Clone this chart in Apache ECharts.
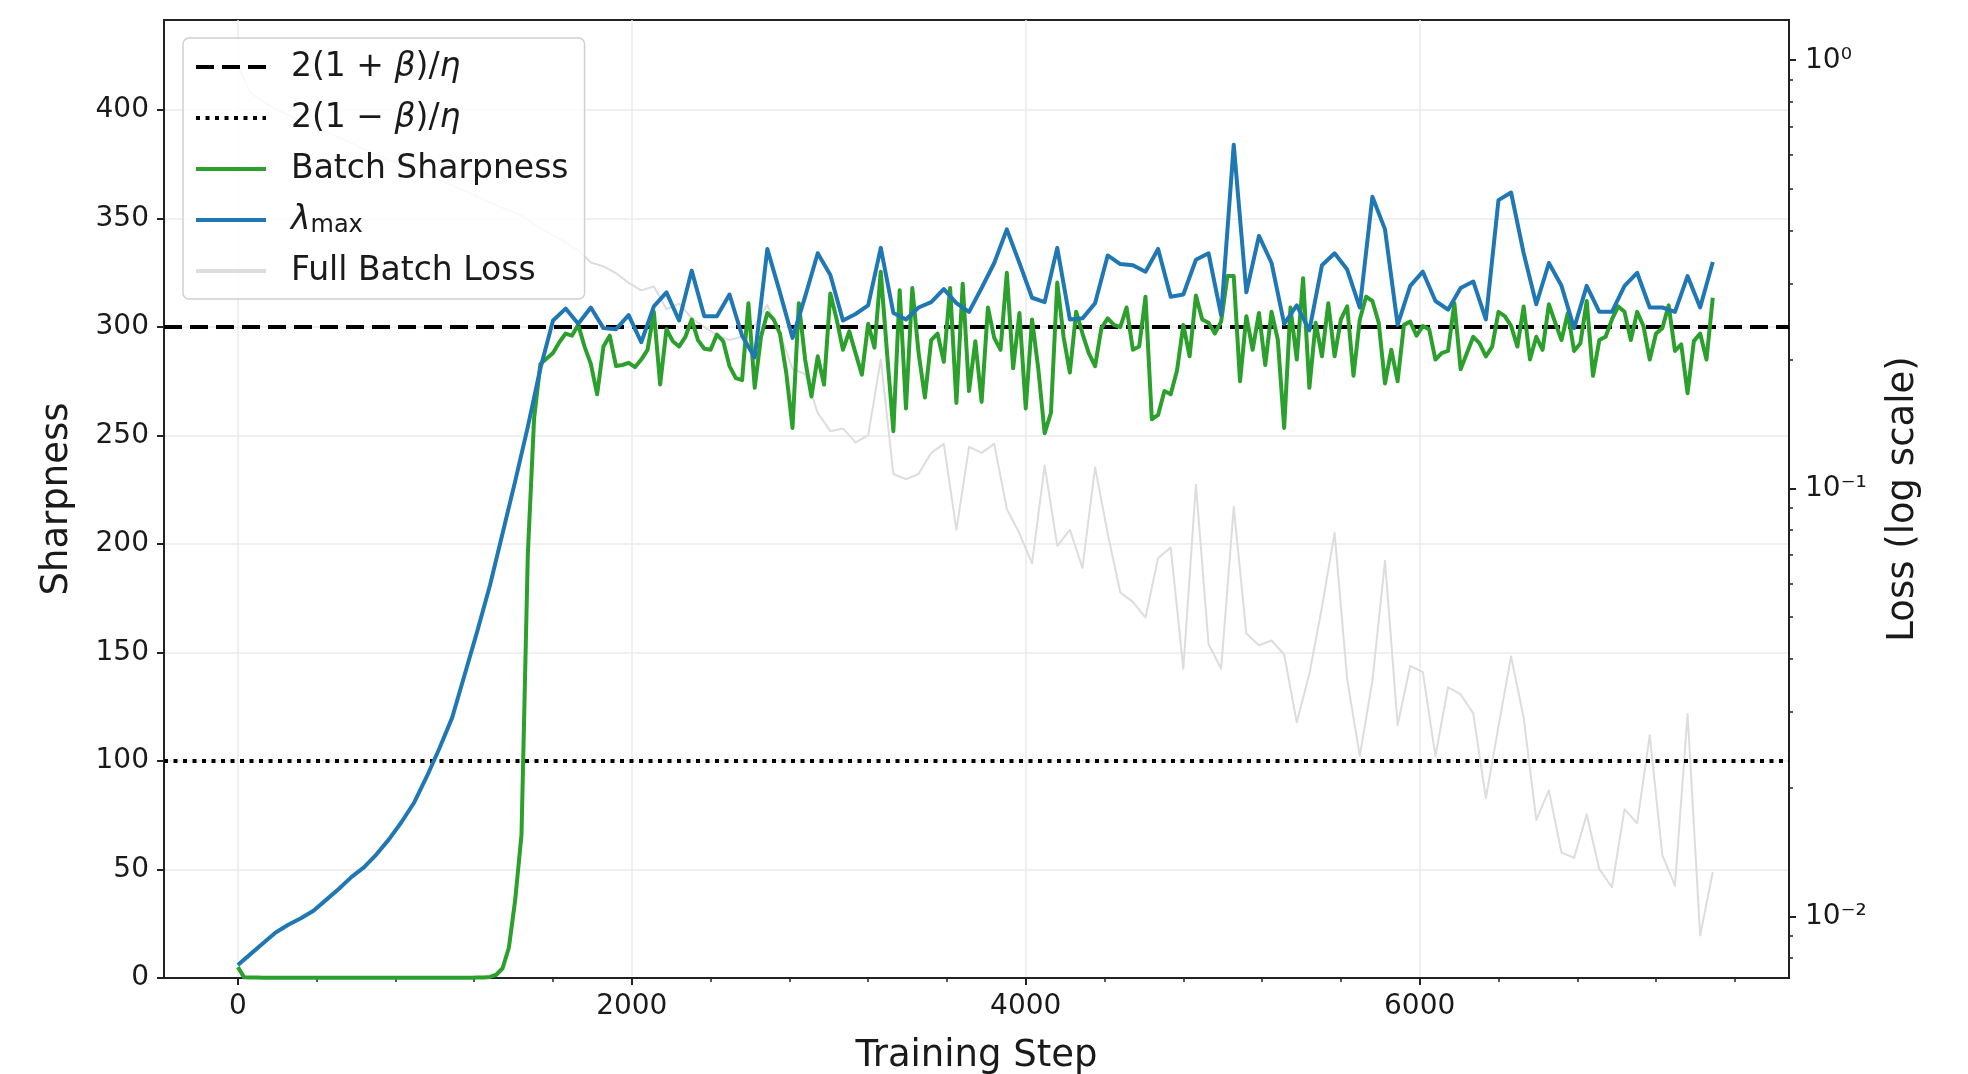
<!DOCTYPE html>
<html><head><meta charset="utf-8">
<script src="https://cdn.jsdelivr.net/npm/echarts@6/dist/echarts.min.js"></script>
<style>html,body{margin:0;padding:0;background:#ffffff}#chart{width:1968px;height:1074px}</style>
</head><body><div id="chart"></div>
<script>
// ---------------- data ----------------
const EVAL_INTERVAL = 64;   // training steps between λmax / full-batch-loss evaluations
const BATCH_INTERVAL = 32;  // training steps between batch-sharpness evaluations

const lambdaMax = [6, 11, 16, 21, 24.5, 27.5, 31, 36, 41, 46.5,
 51, 57, 64, 72, 81, 93, 106, 120, 140, 160,
 181, 205, 229, 254, 281, 303, 308.5, 301.5, 309, 299.5,
 299, 305.5, 293, 309.5, 316, 303, 326, 305, 305, 315,
 296, 286, 336, 316, 295, 314, 334, 324, 303, 306,
 310, 336.5, 306.5, 303.5, 309, 311.5, 317.5, 311, 307, 318,
 329.5, 345, 329.5, 313.5, 311.5, 336.5, 303.5, 304, 311, 333,
 329, 328.5, 325.5, 336, 314, 315, 331, 334, 305.5, 384,
 316, 342, 329.5, 301.5, 310, 298.5, 328.5, 334, 326.5, 309,
 360, 345, 301, 319, 325.5, 312, 308, 318, 321, 303.5,
 358.5, 362, 334, 310.5, 329.5, 319, 299.5, 319, 307, 307,
 319, 325, 309, 309, 307, 323.5, 309, 330];

const batchSharpness = [5,
 0.3, 0.2, 0.2, 0.1, 0.1, 0.1, 0.1, 0.1, 0.1, 0.1,
 0.1, 0.1, 0.1, 0.1, 0.1, 0.1, 0.1, 0.1, 0.1, 0.1,
 0.1, 0.1, 0.1, 0.1, 0.1, 0.1, 0.1, 0.1, 0.1, 0.1,
 0.1, 0.1, 0.1, 0.1, 0.1, 0.1, 0.1, 0.2, 0.2,
 0.5, 1.5, 4.5, 14, 36, 66, 195, 258,
 283, 285.5, 288, 293, 297, 296, 301, 291, 283, 269,
 291, 296, 282, 282.5, 283.5, 281.5, 285, 289.5, 307, 273.5,
 299, 293.5, 291, 295.5, 303.5, 294, 290, 289.5, 296.5, 293.5,
 282, 276.5, 275.5, 311, 272, 295.5, 306.5, 303.5, 297, 279,
 253.5, 311, 285, 268, 286.5, 273.5, 315.5, 303.5, 289.5, 298,
 288, 278, 301.5, 290.5, 325.5, 288, 252, 317, 262.5, 318,
 288, 267.5, 294, 297, 284, 318, 265, 320, 270.5, 293.5,
 265.5, 309, 295, 289.5, 325, 281, 306.5, 262.5, 303.5, 280.5,
 251, 260.5, 320.5, 295.5, 279, 307, 297, 288, 282, 299.5,
 304, 301, 300, 309, 289.5, 291, 314, 257.5, 259.5, 270.5,
 269, 280, 301, 286.5, 314.5, 303.5, 302, 297, 302.5, 323.5,
 323.5, 275, 305, 289.5, 306.5, 282.5, 307, 294, 253.5, 309,
 285, 322.5, 272, 302, 286.5, 311, 286.5, 303.5, 309.5, 277.5,
 303.5, 314, 312, 302, 274, 289.5, 275, 301, 302.5, 296,
 300.5, 299, 285, 288, 289, 311, 280.5, 288, 295.5, 292.5,
 286.5, 291, 307, 305, 300.5, 291, 309.5, 285, 295.5, 289.5,
 310.5, 302, 294, 306.5, 289, 292.5, 312, 277.5, 294, 295.5,
 303.5, 309.5, 307, 294, 307, 300.5, 285, 297, 299.5, 310,
 289, 292, 269.5, 293.5, 297, 285, 313.5];

const fullBatchLoss = [0.97, 0.84, 0.80, 0.77, 0.745, 0.72, 0.70, 0.68, 0.66, 0.64,
 0.62, 0.60, 0.585, 0.57, 0.555, 0.54, 0.525, 0.51, 0.495, 0.48,
 0.465, 0.452, 0.44, 0.425, 0.405, 0.39, 0.375, 0.36, 0.337, 0.33,
 0.318, 0.302, 0.29, 0.296, 0.262, 0.27, 0.25, 0.238, 0.228, 0.222,
 0.226, 0.24, 0.268, 0.23, 0.19, 0.185, 0.15, 0.136, 0.138, 0.128,
 0.133, 0.20, 0.108, 0.105, 0.108, 0.121, 0.127, 0.080, 0.125, 0.121,
 0.127, 0.0895, 0.0785, 0.0668, 0.113, 0.0734, 0.080, 0.0652, 0.112, 0.0785,
 0.0571, 0.0543, 0.0499, 0.0687, 0.0727, 0.0379, 0.102, 0.0433, 0.0379, 0.0904,
 0.0458, 0.0430, 0.0441, 0.0409, 0.0284, 0.0369, 0.0528, 0.0787, 0.0358, 0.0237,
 0.0355, 0.0677, 0.0280, 0.0385, 0.0372, 0.0237, 0.0343, 0.0330, 0.0298, 0.0189,
 0.0278, 0.0405, 0.0291, 0.0168, 0.0197, 0.0141, 0.0137, 0.0173, 0.0129, 0.0117,
 0.0178, 0.0165, 0.0265, 0.0139, 0.0118, 0.0297, 0.00903, 0.0127];

const upperThreshold = 300;   // 2(1+β)/η
const lowerThreshold = 100;   // 2(1−β)/η

const xTicks = [0, 2000, 4000, 6000];
const xMinorTicks = [400, 800, 1200, 1600, 2400, 2800, 3200, 3600, 4400, 4800, 5200, 5600, 6400, 6800, 7200, 7600];
const yTicks = [0, 50, 100, 150, 200, 250, 300, 350, 400];
const lossTicks = [0.01, 0.1, 1];
const lossMinorTicks = [0.008, 0.009, 0.02, 0.03, 0.04, 0.05, 0.06, 0.07, 0.08, 0.09,
  0.2, 0.3, 0.4, 0.5, 0.6, 0.7, 0.8, 0.9];

const X_MIN = -375, X_MAX = 7875;
const Y_MIN = 0, Y_MAX = 441.5;
const LOSS_MIN = 0.00718, LOSS_MAX = 1.2416;

const NAME_UP = '2(1 + β)/η';
const NAME_LO = '2(1 − β)/η';
const NAME_BS = 'Batch Sharpness';
const NAME_LM = 'λmax';
const NAME_FL = 'Full Batch Loss';

// ---------------- build ----------------
const FONT = 'DejaVu Sans';
const TXT = '#1a1a1a';
const AX = '#222222';
const lamData = lambdaMax.map((v, i) => [i * EVAL_INTERVAL, v]);
const lossData = fullBatchLoss.map((v, i) => [i * EVAL_INTERVAL, v]);
const bsData = batchSharpness.map((v, i) => [i * BATCH_INTERVAL, v]);

const supMap = {'-': '⁻', '0': '⁰', '1': '¹', '2': '²', '3': '³'};
function logLabel(v) {
  const e = Math.round(Math.log10(v));
  return '10' + String(e).split('').map(c => supMap[c] || c).join('');
}

const chart = echarts.init(document.getElementById('chart'), null, {renderer: 'canvas'});
chart.setOption({
  animation: false,
  backgroundColor: '#ffffff',
  textStyle: {fontFamily: FONT},
  grid: {left: 164, right: 179, top: 20, bottom: 96, show: true, borderColor: AX, borderWidth: 2,
    backgroundColor: '#ffffff', containLabel: false, outerBoundsMode: 'none'},
  legend: {
    orient: 'vertical', left: 183, top: 38,
    padding: [11, 16, 10, 11],
    itemGap: 15, itemWidth: 70, itemHeight: 14,
    backgroundColor: 'rgba(255,255,255,0.82)',
    borderColor: '#d0d0d0', borderWidth: 1.5, borderRadius: 6,
    itemStyle: {opacity: 0, borderWidth: 0},
    lineStyle: {width: 4},
    data: [NAME_UP, NAME_LO, NAME_BS, NAME_LM, NAME_FL],
    textStyle: {
      fontFamily: FONT, fontSize: 33, color: TXT, lineHeight: 36, padding: [0, 0, 0, 20],
      rich: {
        i: {fontFamily: FONT, fontSize: 33, fontStyle: 'italic', color: TXT, lineHeight: 36},
        s: {fontFamily: FONT, fontSize: 24, color: TXT, lineHeight: 18, verticalAlign: 'bottom'}
      }
    },
    formatter: function (name) {
      if (name === NAME_UP) return '2(1 + {i|β})/{i|η}';
      if (name === NAME_LO) return '2(1 − {i|β})/{i|η}';
      if (name === NAME_LM) return '{i|λ}{s|max}';
      return name;
    }
  },
  xAxis: [{
    type: 'value', min: X_MIN, max: X_MAX, position: 'bottom',
    name: 'Training Step', nameLocation: 'middle', nameGap: 60,
    nameTextStyle: {fontFamily: FONT, fontSize: 37, color: TXT},
    axisLine: {show: true, onZero: false, lineStyle: {color: AX, width: 2}},
    axisTick: {show: true, customValues: xTicks, length: 7, lineStyle: {color: AX, width: 2}},
    axisLabel: {customValues: xTicks, fontFamily: FONT, fontSize: 28, color: TXT, margin: 15,
      formatter: v => String(v)},
    splitLine: {show: true, lineStyle: {color: '#ebebeb', width: 1.5}}
  }, {
    type: 'value', min: X_MIN, max: X_MAX, position: 'bottom',
    axisLine: {show: false, onZero: false},
    axisTick: {show: true, customValues: xMinorTicks, length: 4, lineStyle: {color: AX, width: 1.5}},
    axisLabel: {show: false},
    splitLine: {show: false}
  }],
  yAxis: [{
    type: 'value', min: Y_MIN, max: Y_MAX, position: 'left',
    name: 'Sharpness', nameLocation: 'middle', nameRotate: 90, nameGap: 88,
    nameTextStyle: {fontFamily: FONT, fontSize: 37, color: TXT},
    axisLine: {show: true, onZero: false, lineStyle: {color: AX, width: 2}},
    axisTick: {show: true, customValues: yTicks, length: 7, lineStyle: {color: AX, width: 2}},
    axisLabel: {customValues: yTicks, fontFamily: FONT, fontSize: 28, color: TXT, margin: 15},
    splitLine: {show: true, lineStyle: {color: '#ebebeb', width: 1.5}}
  }, {
    type: 'log', logBase: 10, min: LOSS_MIN, max: LOSS_MAX, position: 'right',
    name: 'Loss (log scale)', nameLocation: 'middle', nameRotate: 90, nameGap: 96,
    nameTextStyle: {fontFamily: FONT, fontSize: 37, color: TXT},
    axisLine: {show: true, onZero: false, lineStyle: {color: AX, width: 2}},
    axisTick: {show: true, customValues: lossTicks, length: 7, lineStyle: {color: AX, width: 2}},
    axisLabel: {customValues: lossTicks, fontFamily: FONT, fontSize: 28, color: TXT, margin: 16,
      padding: [8, 0, 0, 0], formatter: logLabel},
    splitLine: {show: false}
  }, {
    type: 'log', logBase: 10, min: LOSS_MIN, max: LOSS_MAX, position: 'right',
    axisLine: {show: false, onZero: false},
    axisTick: {show: true, customValues: lossMinorTicks, length: 4, lineStyle: {color: AX, width: 1.5}},
    axisLabel: {show: false},
    splitLine: {show: false}
  }],
  series: [{
    name: NAME_FL, type: 'line', xAxisIndex: 0, yAxisIndex: 1, data: lossData,
    symbol: 'none', z: 2, silent: true,
    lineStyle: {color: '#dddddd', width: 2, join: 'round'}, itemStyle: {color: '#dddddd'}
  }, {
    name: NAME_UP, type: 'line', data: [[X_MIN, upperThreshold], [X_MAX, upperThreshold]],
    symbol: 'none', z: 3, silent: true,
    lineStyle: {color: '#000000', width: 4, type: [18, 8]}, itemStyle: {color: '#000000'}
  }, {
    name: NAME_LO, type: 'line', data: [[X_MIN, lowerThreshold], [X_MAX, lowerThreshold]],
    symbol: 'none', z: 3, silent: true,
    lineStyle: {color: '#000000', width: 4, type: [4, 5.5]}, itemStyle: {color: '#000000'}
  }, {
    name: NAME_BS, type: 'line', data: bsData,
    symbol: 'none', z: 4, silent: true,
    lineStyle: {color: '#2ca02c', width: 4, join: 'round'}, itemStyle: {color: '#2ca02c'}
  }, {
    name: NAME_LM, type: 'line', data: lamData,
    symbol: 'none', z: 5, silent: true,
    lineStyle: {color: '#1f77b4', width: 4, join: 'round'}, itemStyle: {color: '#1f77b4'}
  }]
});
</script>
</body></html>
